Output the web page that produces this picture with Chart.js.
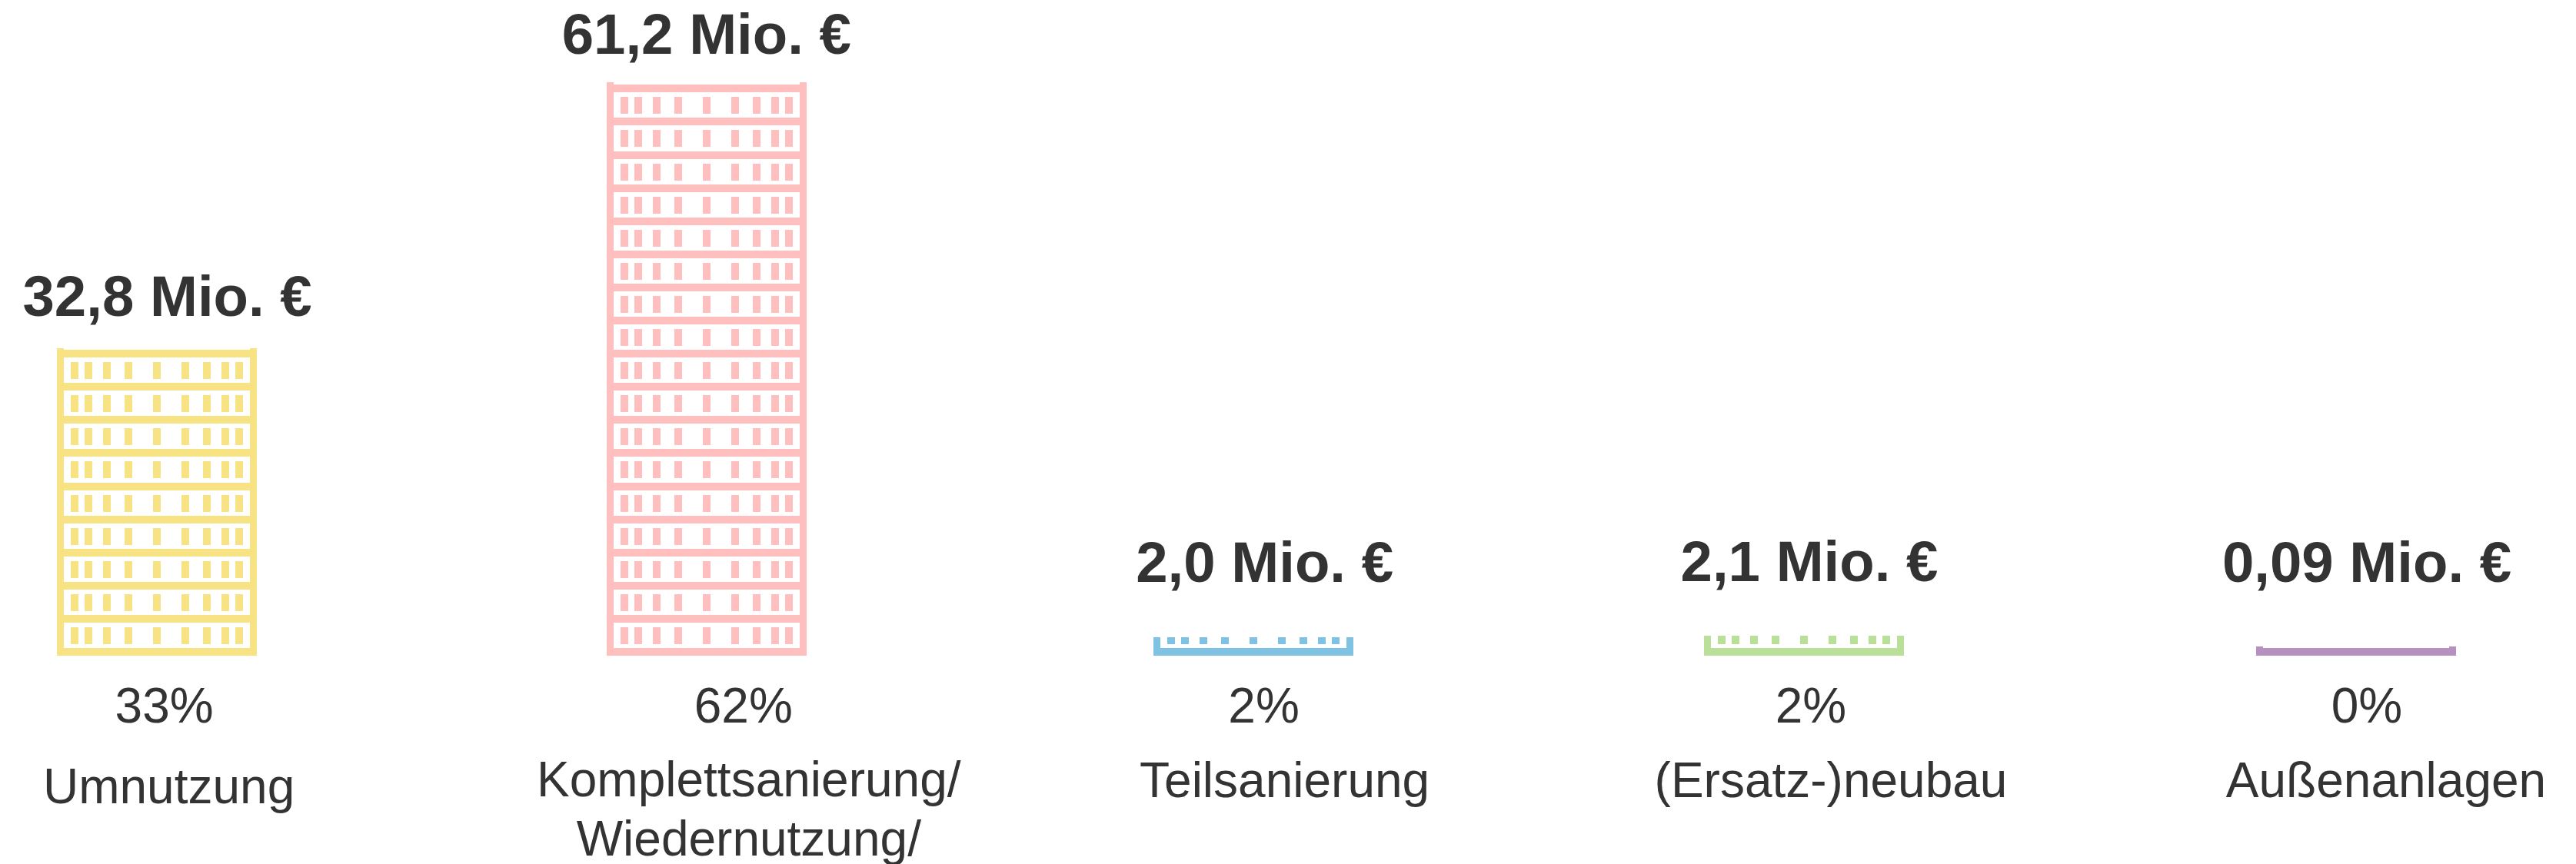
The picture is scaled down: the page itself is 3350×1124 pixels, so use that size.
<!DOCTYPE html>
<html lang="de">
<head>
<meta charset="utf-8">
<title>Investitionen nach Maßnahmenart</title>
<style>
html,body{margin:0;padding:0;background:#fff;width:3350px;height:1124px;overflow:hidden}
#wrap{position:absolute;left:-154px;top:0;width:3576px;height:1124px}
</style>
<script src="https://cdn.jsdelivr.net/npm/chart.js@4"></script>
</head>
<body>
<div id="wrap"><canvas id="c" width="3576" height="1124"></canvas></div>
<script>
// Data
const categories = ["Umnutzung", "Komplettsanierung/", "Teilsanierung", "(Ersatz-)neubau", "Außenanlagen"];
const categoryExtraLines = [[], ["Wiedernutzung/"], [], [], []];
const investMio = [32.8, 61.2, 2.0, 2.1, 0.09];
const valueLabels = ["32,8 Mio. €", "61,2 Mio. €", "2,0 Mio. €", "2,1 Mio. €", "0,09 Mio. €"];
const shareLabels = ["33%", "62%", "2%", "2%", "0%"];

// Styles and layout
const colors = ["#F7E384", "#FFBFBF", "#80C2E3", "#BADF98", "#B690BE"];
const textColor = "#333333";
const fontFamily = '"Liberation Sans", Arial, sans-serif';
const barNudge = [0, 0, -4.4, -3.2, -0.4];
const valueDx = [14, 0, 15, 7, 14];
const valueGap = [42, 37, 72, 71, 84];
const shareDx = [10, 48, 14, 9, 14];
const nameDx = [16, 55, 41, 35, 39];
const nameDy = [192, 183, 184, 184, 184];
const shareDy = 87, lineHeight = 77;
const shelfStep = 43.1, shelfH = 10, postW = 9;
const tickOffsets = [18, 36, 60, 88, 125, 162, 190, 214, 232];
const tickW = 10, tickTop = 6, tickH = 21.5;

const shelfPlugin = {
  id: "shelves",
  afterDatasetsDraw(chart) {
    const ctx = chart.ctx;
    chart.getDatasetMeta(0).data.forEach((el, i) => {
      const left = Math.round(el.x - el.width / 2 + barNudge[i]);
      const right = left + el.width;
      const top = Math.round(el.y), base = Math.round(el.base);
      ctx.save();
      ctx.beginPath();
      ctx.rect(left, top, el.width, base - top);
      ctx.clip();
      ctx.fillStyle = colors[i];
      ctx.fillRect(left, top, postW, base - top);
      ctx.fillRect(right - postW, top, postW, base - top);
      for (let k = 0; base - shelfStep * k + shelfStep > top; k++) {
        const yB = Math.round(base - shelfStep * k);
        ctx.fillRect(left, yB - shelfH, el.width, shelfH);
        if (k > 0) {
          tickOffsets.forEach(o => ctx.fillRect(left + o, yB + tickTop, tickW, Math.round(tickH)));
        }
      }
      ctx.restore();

      ctx.save();
      ctx.fillStyle = textColor;
      ctx.textAlign = "center";
      ctx.textBaseline = "alphabetic";
      const cx = el.x + barNudge[i];
      ctx.font = "bold 74.4px " + fontFamily;
      ctx.fillText(valueLabels[i], cx + valueDx[i], el.y - valueGap[i]);
      ctx.font = "64px " + fontFamily;
      ctx.fillText(shareLabels[i], cx + shareDx[i], el.base + shareDy);
      ctx.fillText(categories[i], cx + nameDx[i], el.base + nameDy[i]);
      categoryExtraLines[i].forEach((line, j) =>
        ctx.fillText(line, cx + nameDx[i], el.base + nameDy[i] + lineHeight * (j + 1)));
      ctx.restore();
    });
  }
};

new Chart(document.getElementById("c"), {
  type: "bar",
  data: {
    labels: categories,
    datasets: [{
      label: "Investitionen (Mio. €)",
      data: investMio,
      backgroundColor: "rgba(0,0,0,0)",
      borderWidth: 0,
      barThickness: 260,
      minBarLength: 12
    }]
  },
  options: {
    responsive: false,
    animation: false,
    layout: { padding: { left: 0, right: 0, top: 0, bottom: 271 } },
    plugins: { legend: { display: false }, tooltip: { enabled: false } },
    scales: {
      x: { display: false, grid: { display: false } },
      y: { display: false, min: 0, max: 70, grid: { display: false } }
    }
  },
  plugins: [shelfPlugin]
});
</script>
</body>
</html>
